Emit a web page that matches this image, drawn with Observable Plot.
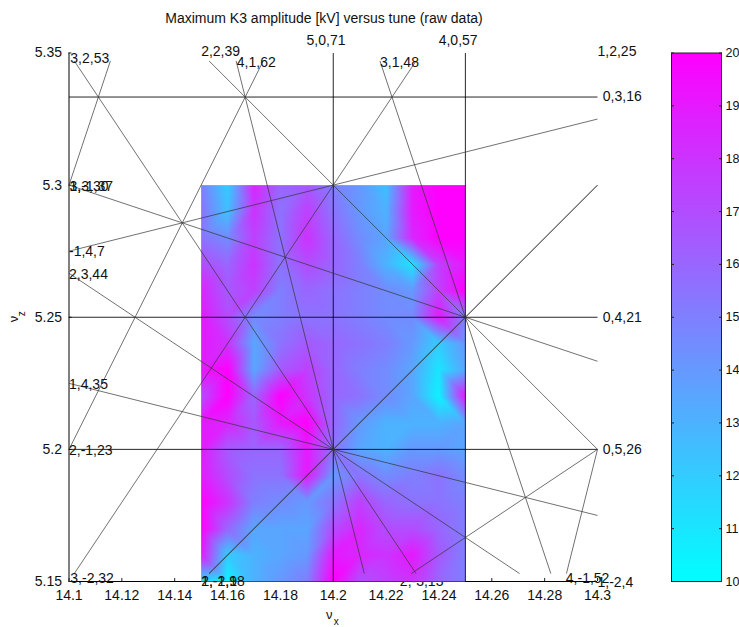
<!DOCTYPE html>
<html>
<head>
<meta charset="utf-8">
<style>
html,body{margin:0;padding:0;background:#fff;}
#wrap{position:relative;width:739px;height:627px;overflow:hidden;font-family:"Liberation Sans",Arial,sans-serif;}
#wrap svg{position:absolute;top:0;background:transparent;}
</style>
<script src="https://cdn.jsdelivr.net/npm/d3@7"></script>
<script src="https://cdn.jsdelivr.net/npm/@observablehq/plot@0.6"></script>
</head>
<body>
<div id="wrap"></div>
<script>
const titleText = "Maximum K3 amplitude [kV] versus tune (raw data)";
const xTicks = [14.1,14.12,14.14,14.16,14.18,14.2,14.22,14.24,14.26,14.28,14.3];
const yTicks = [5.15,5.2,5.25,5.3,5.35];
const barTicks = [10,11,12,13,14,15,16,17,18,19,20];

// Resonance lines a*nux + b*nuz = c
const resA = [5,4,3,3,3,2,2,2,1,1,4,4,3,2,2,-1,1,1,0,0,0,1];
const resB = [0,0,2,-1,1,2,3,-1,3,4,1,-1,-2,-2,-3,4,-1,2,3,4,5,-2];
const resC = [71,57,53,37,48,39,44,23,30,35,62,52,32,18,13,7,9,25,16,21,26,4];
// Label positions
const labelX = [14.1899,14.2399,14.1005,14.1002,14.2177,14.15,14.1,14.1,14.1002,14.1,14.1635,14.288,14.1005,14.15,14.2252,14.1,14.15,14.3,14.302,14.302,14.302,14.3];
const labelY = [5.3547,5.3547,5.348,5.2995,5.3465,5.3505,5.266,5.1995,5.2995,5.2245,5.3465,5.151,5.151,5.15,5.15,5.275,5.15,5.3505,5.3335,5.25,5.2,5.1495];

// Heat map samples
const gridX = [14.15,14.16,14.17,14.18,14.19,14.2,14.21,14.22,14.23,14.24,14.25];
const gridY = [5.3,5.29,5.28,5.27,5.26,5.25,5.24,5.23,5.22,5.21,5.2,5.19,5.18,5.17,5.16,5.15];
const k3 = [
 [15,12,18.5,16,16.5,15,14,12.5,19,20,20],
 [15.5,12.5,18,15.5,17.5,15.5,14,13,19,20,20],
 [15.5,14.5,17.5,15.5,18,16,14.5,13.5,18.5,20,20],
 [17,16,18,15.5,17,16,15,13,11,17.5,19],
 [18.5,16.5,17.5,15,16,15.5,15,14.5,14,17.5,20],
 [19,17,14.5,15,15.5,15.5,15,14.5,14.5,19,15],
 [19,18,13.5,15.5,16.5,16,15.5,15,14,12,14],
 [19,20,13.5,16.5,17.5,16,15,14.5,13.5,11,13.5],
 [17,20,16,20,18,16,15.5,14.5,13.5,10.5,19],
 [19,18.5,16.5,19,20,16,14,13,13,13,13.5],
 [19,16.5,16,16,19,15.5,13.5,13,14,14,13.5],
 [19,17,15.5,15.5,19,14,15.5,14.5,15,15.5,14.5],
 [20,18,15,14.5,14,15.5,17.5,16,15.5,15.5,15],
 [20,16,13.5,13.5,13.5,17,18.5,17,17,16,15],
 [19,12,13,13.5,14,19,18.5,18,19,16.5,15],
 [11.5,10.5,13,14,15,20,17,17.5,18,16,15]
];

const samples = gridY.flatMap((z,r)=>gridX.map((x,c)=>({x,z,v:k3[r][c]})));
const barSamples = barTicks.flatMap(v=>[0,1].map(t=>({t,v})));
const colorScale = {type:"linear",domain:[10,20],range:["#00ffff","#ff00ff"],interpolate:"rgb",clamp:true};

// Clip a resonance line to the diagram
function segment(a,b,c){
  const xMin=14.1,xMax=14.3;
  if(b===0){const x=c/a;return {x1:x,y1:5.15,x2:x,y2:5.35};}
  if(a===0){const y=c/b;return {x1:xMin,y1:y,x2:xMax,y2:y};}
  const zMin=5.153,zMax=5.347;
  const yAt=x=>(c-a*x)/b, xAt=y=>(c-b*y)/a;
  const pts=[];
  for(const x of [xMin,xMax]){const y=yAt(x);if(y>=zMin-1e-9&&y<=zMax+1e-9)pts.push([x,y]);}
  for(const y of [zMin,zMax]){const x=xAt(y);if(x>=xMin-1e-9&&x<=xMax+1e-9)pts.push([x,y]);}
  if(pts.length<2||Math.hypot(pts[0][0]-pts[1][0],pts[0][1]-pts[1][1])<1e-6)return null;
  return {x1:pts[0][0],y1:pts[0][1],x2:pts[1][0],y2:pts[1][1]};
}
const res = resA.map((a,i)=>({a,b:resB[i],c:resC[i],lx:labelX[i],ly:labelY[i],name:`${a},${resB[i]},${resC[i]}`}));
const segs = res.map(r=>({...r,seg:segment(r.a,r.b,r.c)})).filter(r=>r.seg).map(r=>({...r.seg,axis:r.a===0||r.b===0}));

const font = "Liberation Sans";
const ink = "#111";

const main = Plot.plot({
  width:739,height:627,
  marginLeft:68.5,marginRight:142,marginTop:52.5,marginBottom:46,
  style:{fontFamily:font,background:"transparent"},
  x:{domain:[14.1,14.3]},
  y:{domain:[5.15,5.35]},
  color:colorScale,
  marks:[
    Plot.ruleY([5.15],{stroke:"#000",strokeWidth:1}),
    Plot.ruleX([14.1],{stroke:"#000",strokeWidth:1}),
    Plot.axisX({ticks:xTicks,tickSize:-3,tickPadding:12,tickFormat:d=>String(+d.toFixed(2)),label:null,fontSize:14,fill:ink,stroke:"#222"}),
    Plot.axisY({ticks:yTicks,tickSize:-3,tickPadding:10,tickFormat:d=>String(+d.toFixed(2)),label:null,fontSize:14,fill:ink,stroke:"#222"}),
    Plot.text(res.filter(r=>r.name==="2,-3,13"),{x:"lx",y:"ly",text:"name",textAnchor:"start",fontSize:14,fill:ink}),
    Plot.raster(samples,{x:"x",y:"z",fill:"v",interpolate:"barycentric",pixelSize:1,x1:14.15,x2:14.25,y1:5.15,y2:5.3}),
    Plot.link(segs.filter(d=>d.axis),{x1:"x1",y1:"y1",x2:"x2",y2:"y2",stroke:"#000",strokeWidth:1,strokeOpacity:.85}),
    Plot.link(segs.filter(d=>!d.axis),{x1:"x1",y1:"y1",x2:"x2",y2:"y2",stroke:"#333",strokeWidth:.7}),
    Plot.text(res.filter(r=>r.name!=="2,-3,13"),{x:"lx",y:"ly",text:"name",textAnchor:"start",fontSize:14,fill:ink}),
    Plot.text([titleText],{frameAnchor:"top",x:14.1965,dy:-40,fontSize:14,fill:ink}),
    Plot.text(["\u03bd"],{frameAnchor:"bottom",x:14.2,dx:-4,dy:37,fontSize:13,fill:ink}),
    Plot.text(["x"],{frameAnchor:"bottom",x:14.2,dx:3,dy:43,fontSize:10,fill:ink}),
    Plot.text(["\u03bd"],{frameAnchor:"left",dx:-55,y:5.25,dy:5,rotate:-90,fontSize:13,fill:ink}),
    Plot.text(["z"],{frameAnchor:"left",dx:-47,y:5.25,dy:-1,rotate:-90,fontSize:10,fill:ink})
  ]
});
main.style.left="0px";

const bar = Plot.plot({
  width:99,height:627,
  marginLeft:31,marginRight:18,marginTop:52.5,marginBottom:46,
  style:{fontFamily:font,background:"transparent"},
  x:{domain:[0,1],axis:null},
  y:{domain:[10,20],axis:null},
  color:colorScale,
  marks:[
    Plot.raster(barSamples,{x:"t",y:"v",fill:"v",interpolate:"barycentric",pixelSize:1,x1:0,x2:1,y1:10,y2:20}),
    Plot.frame({stroke:"#222",strokeWidth:1}),
    Plot.axisY({anchor:"left",ticks:barTicks,tickSize:-3,tickFormat:()=>"",label:null,stroke:"#222"}),
    Plot.axisY({anchor:"right",ticks:barTicks,tickSize:-3,tickPadding:7,label:null,fontSize:12.5,fill:ink,stroke:"#222"})
  ]
});
bar.style.left="640px";

const wrap=document.getElementById("wrap");
wrap.append(main,bar);
</script>
</body>
</html>
